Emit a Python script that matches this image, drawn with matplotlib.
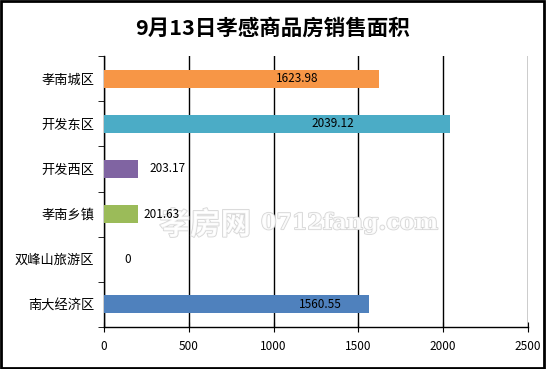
import matplotlib
matplotlib.use('Agg')
import matplotlib.pyplot as plt
import matplotlib.patheffects as pe
from matplotlib.patches import Rectangle

plt.rcParams['font.family'] = ['Noto Sans CJK SC', 'DejaVu Sans']

# data, top to bottom as in the chart
districts = ['孝南城区', '开发东区', '开发西区', '孝南乡镇', '双峰山旅游区', '南大经济区']
areas = [1623.98, 2039.12, 203.17, 201.63, 0, 1560.55]
colors = ['#F79646', '#4BACC6', '#8064A2', '#9BBB59', '#FFFFFF', '#4F81BD']
# where each value label sits along the x axis
label_pos = [1138, 1350, 377, 342, 142, 1273]
xticks = [0, 500, 1000, 1500, 2000, 2500]

fig = plt.figure(figsize=(5.46, 3.69), dpi=100)
ax = fig.add_axes([0.1905, 0.1138, 0.7765, 0.7342])

y = list(range(len(districts)))[::-1]
ax.barh(y, areas, height=0.4, color=colors, zorder=3)
for yi, v, lx in zip(y, areas, label_pos):
    ax.text(lx, yi, f'{v:g}' if v == 0 else f'{v:.2f}', ha='center', va='center',
            fontsize=8.5, zorder=5)

ax.set_xlim(0, 2500)
ax.set_ylim(-0.5, 5.5)
ax.set_xticks(xticks)
ax.set_xticklabels([str(t) for t in xticks], fontsize=8.5)
ax.set_yticks(y)
ax.set_yticklabels(districts, fontsize=9.5)
ax.set_yticks([i + 0.5 for i in range(-1, 6)], minor=True)
ax.tick_params(axis='y', which='major', length=0, pad=7)
ax.tick_params(axis='y', which='minor', length=4, direction='out', color='black')
ax.tick_params(axis='x', direction='inout', length=7, pad=6)
ax.grid(axis='x', color='black', linewidth=1, zorder=1)
for s in ['top', 'right']:
    ax.spines[s].set_visible(False)
ax.spines['left'].set_linewidth(1)
ax.spines['bottom'].set_linewidth(1)

# watermark, between the bars and the value labels
wm = dict(color='white', zorder=4, alpha=0.85, clip_on=False, transform=fig.transFigure,
          path_effects=[pe.withStroke(linewidth=1.2, foreground='#CFCFCF')])
ax.text(0.292, 0.39, '孝房网', fontsize=22, fontweight='bold', va='center', **wm)
ax.text(0.478, 0.395, '0712fang.com', fontsize=16, family='DejaVu Serif',
        fontweight='bold', va='center', **wm)

fig.text(0.5, 0.925, '9月13日孝感商品房销售面积', ha='center', va='center',
         fontsize=15.5, fontweight='bold')

fig.patches.append(Rectangle((0.002, 0.003), 0.994, 0.993, transform=fig.transFigure,
                             fill=False, edgecolor='black', linewidth=2))

fig.savefig('out.png', dpi=100)
